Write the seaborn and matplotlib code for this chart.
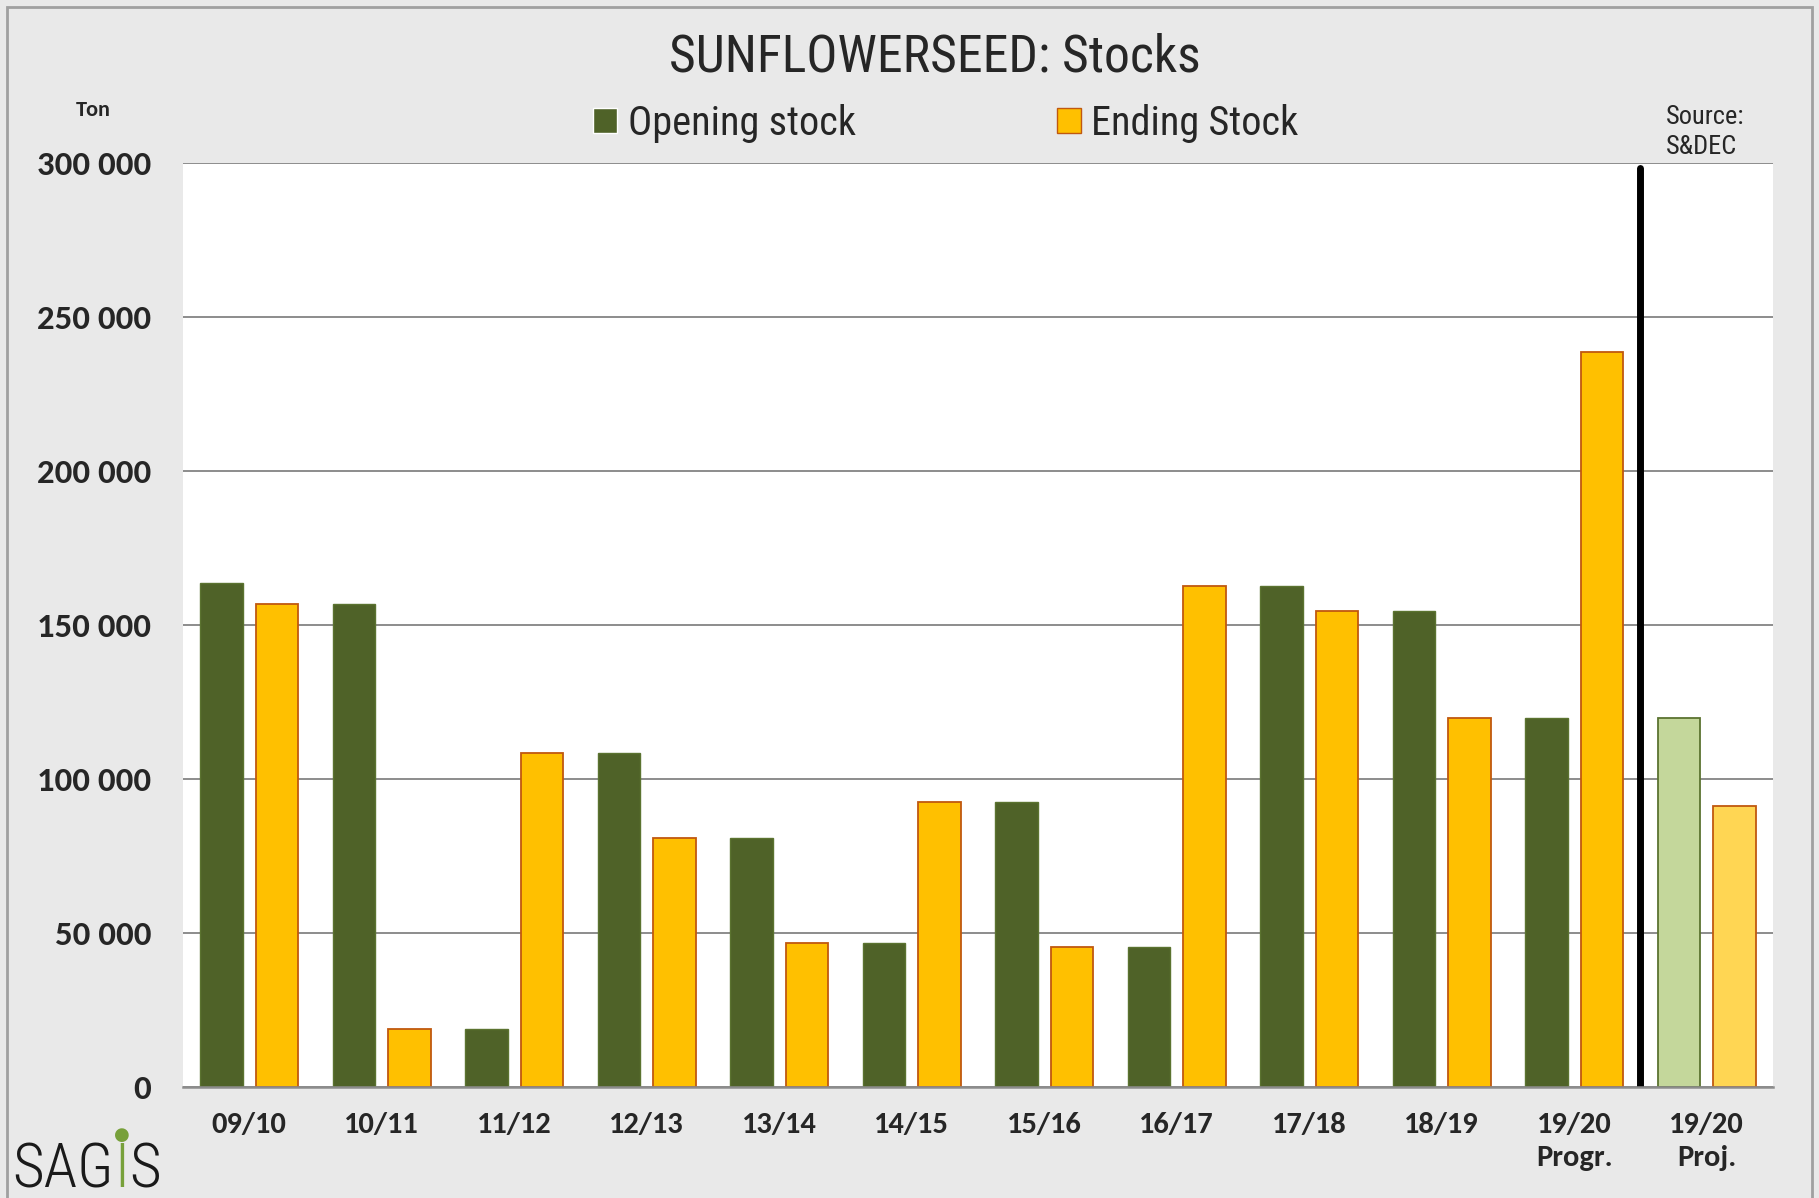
import matplotlib
matplotlib.use('Agg')
import matplotlib.pyplot as plt
import matplotlib.font_manager as fm
from matplotlib.patches import Patch, Rectangle
import seaborn as sns
import pandas as pd

# data (tons)
seasons = ['09/10', '10/11', '11/12', '12/13', '13/14', '14/15', '15/16',
           '16/17', '17/18', '18/19', '19/20\nProgr.', '19/20\nProj.']
opening_stock = [163600, 156800, 18700, 108400, 81000, 46800, 92400,
                 45500, 162600, 154600, 119700, 119700]
ending_stock = [156800, 18700, 108400, 80800, 46800, 92400, 45500,
                162800, 154600, 119700, 238600, 91200]
series_names = ['Opening stock', 'Ending Stock']
y_ticks = [0, 50000, 100000, 150000, 200000, 250000, 300000]

open_color = '#4F6228'
end_color = '#FFC000'
end_edge = '#C0580F'
proj_open_color = '#C4D79B'
proj_end_color = '#FFD653'
bg = '#E9E9E9'

df = pd.DataFrame({
    'season': seasons * 2,
    'series': [series_names[0]] * len(seasons) + [series_names[1]] * len(seasons),
    'value': opening_stock + ending_stock,
})

sns.set_style('white')
# Carlito (Calibri metrics) for the bold labels, a narrow face for the rest
bold_carlito = any(f.name == 'Carlito' and f.weight in (700, 'bold') for f in fm.fontManager.ttflist)
names = {f.name for f in fm.fontManager.ttflist}
if bold_carlito:
    bold_font = 'Carlito'
elif 'Fira Sans Condensed' in names:
    bold_font = 'Fira Sans Condensed'
else:
    bold_font = 'DejaVu Sans'
narrow_font = 'Roboto Condensed' if 'Roboto Condensed' in names else 'DejaVu Sans'
plt.rcParams['font.family'] = [bold_font, 'DejaVu Sans']

fig = plt.figure(figsize=(18.19, 11.98), dpi=100, facecolor=bg)
ax = fig.add_axes([0.1006, 0.0926, 0.8741, 0.7713])
ax.set_facecolor('white')

sns.barplot(data=df, x='season', y='value', hue='series', order=seasons,
            hue_order=series_names, palette=[open_color, end_color], saturation=1,
            width=0.84, gap=0.24, legend=False, ax=ax, zorder=3)

# style bars, projected season gets lighter colors
open_bars, end_bars = ax.containers[0], ax.containers[1]
for i, (b1, b2) in enumerate(zip(open_bars, end_bars)):
    b1.set_edgecolor('#5B7330')
    b1.set_linewidth(1.0)
    b2.set_edgecolor(end_edge)
    b2.set_linewidth(1.3)
    if i == len(seasons) - 1:
        b1.set_facecolor(proj_open_color)
        b1.set_edgecolor('#5B7330')
        b1.set_linewidth(1.3)
        b2.set_facecolor(proj_end_color)

ax.axvline(len(seasons) - 1.5, ymin=0, ymax=0.995, color='black', lw=5, zorder=4)

ax.set_xlim(-0.5, len(seasons) - 0.5)
ax.set_ylim(0, 300000)
ax.set_yticks(y_ticks)
ax.set_yticklabels([f'{v:,.0f}'.replace(',', ' ') for v in y_ticks],
                   fontsize=25, fontweight='bold')
ax.set_xticks(range(len(seasons)))
ax.set_xticklabels(seasons, fontsize=22, fontweight='bold', linespacing=1.35)
ax.tick_params(axis='y', length=0, pad=23)
ax.tick_params(axis='x', length=0, pad=18)
ax.set_xlabel('')
ax.set_ylabel('')
ax.yaxis.grid(True, color='#8C8C8C', lw=1.4, zorder=0)
ax.set_axisbelow(True)
for side in ['left', 'right', 'top']:
    ax.spines[side].set_visible(False)
ax.spines['bottom'].set_color('#8C8C8C')
ax.spines['bottom'].set_linewidth(1.8)
ax.spines['bottom'].set_zorder(5)

fig.text(0.514, 0.952, 'SUNFLOWERSEED: Stocks', fontsize=37.3, family=narrow_font,
         ha='center', va='center')
handles = [Patch(facecolor=open_color), Patch(facecolor=end_color, edgecolor=end_edge)]
fig.legend(handles, series_names, loc='center', bbox_to_anchor=(0.520, 0.897),
           ncol=2, frameon=False, prop={'family': narrow_font, 'size': 29},
           handlelength=0.6, handleheight=0.6, handletextpad=0.25, columnspacing=5.0)
fig.text(0.051, 0.908, 'Ton', fontsize=16, fontweight='bold', ha='center', va='center')
fig.text(0.916, 0.890, 'Source:\nS&DEC', fontsize=19, family=narrow_font,
         ha='left', va='center', linespacing=1.3)

# SAGIS logo as text
t1 = fig.text(0.007, 0.009, 'SAG', fontsize=44, family=narrow_font, fontweight='light',
              color='#1A1A1A', ha='left', va='baseline')
a2 = plt.annotate('I', xy=(1, 0), xycoords=t1, fontsize=44, family=narrow_font,
                  fontweight='light', color='#77A03A', ha='left', va='bottom',
                  annotation_clip=False)
plt.annotate('S', xy=(1, 0), xycoords=a2, fontsize=44, family=narrow_font,
             fontweight='light', color='#1A1A1A', ha='left', va='bottom',
             annotation_clip=False)
plt.annotate('●', xy=(0.5, 1), xycoords=a2, xytext=(0, -2), textcoords='offset points',
             fontsize=13, color='#77A03A', ha='center', va='bottom',
             family='DejaVu Sans', annotation_clip=False)

fig.add_artist(Rectangle((0.004, -0.01), 0.992, 1.004, transform=fig.transFigure,
                         fill=False, edgecolor='#A0A0A0', lw=2))

fig.savefig('out.png', dpi=100, facecolor=bg)
